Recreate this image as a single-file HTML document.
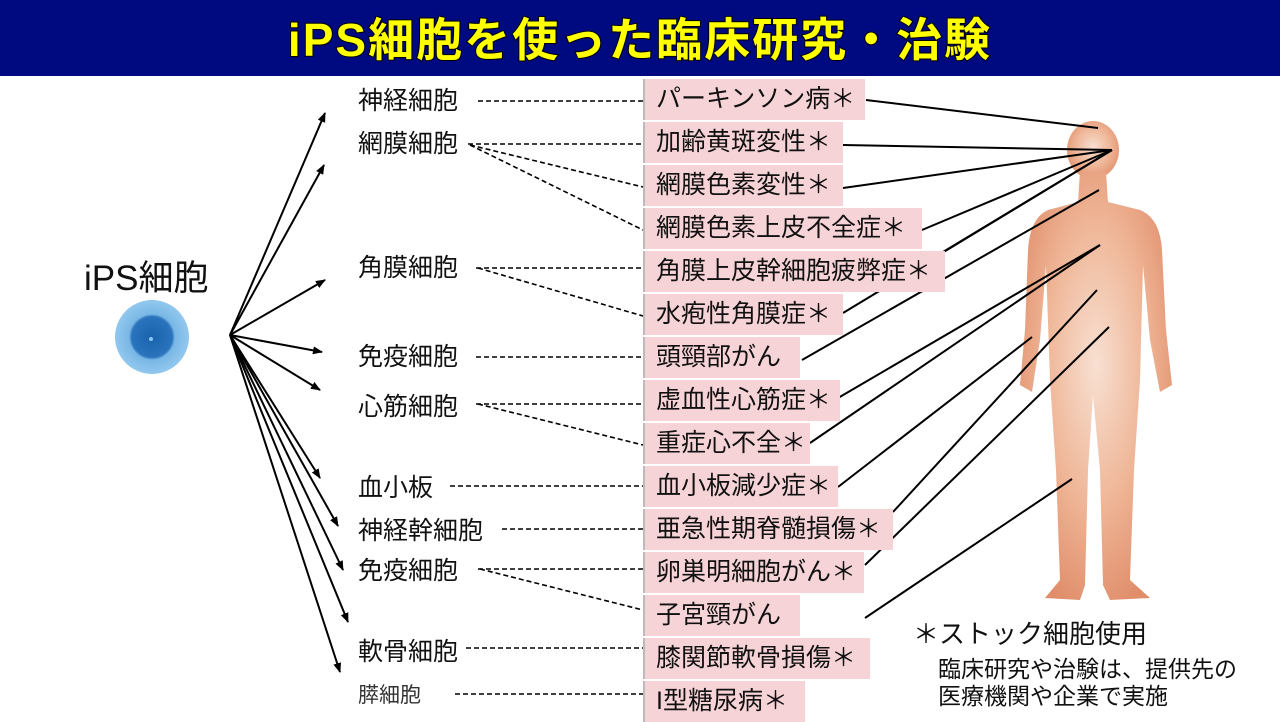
<!DOCTYPE html>
<html><head><meta charset="utf-8"><style>
body{margin:0;width:1280px;height:720px;overflow:hidden;background:#fff;font-family:"Liberation Sans","Noto Sans CJK JP",sans-serif;position:relative}
.bar{position:absolute;left:0;top:0;width:1280px;height:76px;background:#000a80}
.title{position:absolute;left:0;width:1280px;top:10px;text-align:center;font-size:46px;font-weight:bold;color:#ffff00;-webkit-text-stroke:2px #000;paint-order:stroke fill;letter-spacing:2px;line-height:60px}
.lab{position:absolute;left:358px;font-size:25px;color:#111;line-height:28px}
.box{position:absolute;left:643px;height:41px;background:#f6d3d7;font-size:25px;line-height:41px;padding-left:11px;color:#111;box-sizing:border-box;border-left:2px solid #bbb;white-space:nowrap}
.note{position:absolute;color:#111;white-space:nowrap}
</style></head><body>
<div class="bar"></div>
<div class="title">iPS細胞を使った臨床研究・治験</div>

<svg width="1280" height="720" style="position:absolute;left:0;top:0">
<defs>
<radialGradient id="g" cx="50%" cy="45%" r="60%">
<stop offset="0" stop-color="#f8e0d2"/><stop offset="0.55" stop-color="#efb697"/><stop offset="1" stop-color="#e08d6a"/></radialGradient>
<radialGradient id="c" cx="50%" cy="50%" r="50%">
<stop offset="0" stop-color="#1863ac"/><stop offset="0.55" stop-color="#2b74bd"/><stop offset="0.62" stop-color="#79b7e6"/><stop offset="1" stop-color="#92c8ee"/></radialGradient>
<marker id="a" markerWidth="10" markerHeight="8" refX="9" refY="4" orient="auto" markerUnits="userSpaceOnUse"><path d="M0,0 L10,4 L0,8 z" fill="#000"/></marker>
</defs>
<g fill="url(#g)">
<ellipse cx="1093" cy="150" rx="26" ry="29"/>
<path d="M1080,172 L1106,172 L1108,202 L1140,210 Q1160,218 1162,250 L1166,330 L1172,385 L1160,392 L1150,340 L1143,265 L1140,380 L1134,470 L1130,580 L1150,598 L1110,600 L1103,585 L1100,470 L1093,395 L1088,470 L1085,585 L1080,600 L1045,598 L1060,580 L1056,470 L1050,380 L1046,265 L1040,340 L1032,392 L1020,385 L1025,330 L1028,250 Q1030,218 1048,210 L1078,202 Z"/>
</g>
<circle cx="152" cy="337" r="37" fill="url(#c)"/>
<circle cx="151" cy="339" r="2" fill="#8fc6ee"/>
<g stroke="#000" stroke-width="2" fill="none" marker-end="url(#a)">
<line x1="230" y1="335" x2="325" y2="113"/>
<line x1="230" y1="335" x2="324" y2="165"/>
<line x1="230" y1="335" x2="325" y2="280"/>
<line x1="230" y1="335" x2="322" y2="352"/>
<line x1="230" y1="335" x2="320" y2="390"/>
<line x1="230" y1="335" x2="320" y2="478"/>
<line x1="230" y1="335" x2="338" y2="526"/>
<line x1="230" y1="335" x2="343" y2="570"/>
<line x1="230" y1="335" x2="348" y2="622"/>
<line x1="230" y1="335" x2="340" y2="672"/>
</g>
<g stroke="#000" stroke-width="1.6" stroke-dasharray="5,3" fill="none">
<line x1="478" y1="101" x2="643" y2="101"/>
<line x1="468" y1="144" x2="643" y2="144"/>
<line x1="470" y1="145" x2="643" y2="187"/>
<line x1="470" y1="145" x2="643" y2="230"/>
<line x1="476" y1="268" x2="643" y2="268"/>
<line x1="478" y1="268" x2="643" y2="316"/>
<line x1="476" y1="357" x2="643" y2="357"/>
<line x1="476" y1="404" x2="643" y2="404"/>
<line x1="478" y1="404" x2="643" y2="445"/>
<line x1="450" y1="486" x2="643" y2="486"/>
<line x1="502" y1="529" x2="643" y2="529"/>
<line x1="478" y1="569" x2="643" y2="569"/>
<line x1="480" y1="569" x2="643" y2="610"/>
<line x1="466" y1="648" x2="643" y2="648"/>
<line x1="455" y1="694" x2="643" y2="694"/>
</g>
<g stroke="#000" stroke-width="2" fill="none">
<line x1="866" y1="100" x2="1098" y2="128"/>
<line x1="843" y1="145" x2="1112" y2="150"/>
<line x1="843" y1="188" x2="1112" y2="150"/>
<line x1="922" y1="230" x2="1112" y2="150"/>
<line x1="943" y1="252" x2="1112" y2="150"/>
<line x1="843" y1="313" x2="1112" y2="150"/>
<line x1="802" y1="360" x2="1099" y2="190"/>
<line x1="838" y1="398" x2="1100" y2="245"/>
<line x1="810" y1="443" x2="1100" y2="245"/>
<line x1="838" y1="487" x2="1032" y2="337"/>
<line x1="893" y1="512" x2="1097" y2="290"/>
<line x1="865" y1="565" x2="1109" y2="327"/>
<line x1="865" y1="618" x2="1072" y2="479"/>
</g>
</svg>

<div class="note" style="left:84px;top:250px;font-size:35px">iPS細胞</div>

<div class="lab" style="top:87px">神経細胞</div>
<div class="lab" style="top:130px">網膜細胞</div>
<div class="lab" style="top:254px">角膜細胞</div>
<div class="lab" style="top:343px">免疫細胞</div>
<div class="lab" style="top:393px">心筋細胞</div>
<div class="lab" style="top:474px">血小板</div>
<div class="lab" style="top:517px">神経幹細胞</div>
<div class="lab" style="top:557px">免疫細胞</div>
<div class="lab" style="top:638px">軟骨細胞</div>
<div class="lab" style="top:682px;font-size:21px;color:#333">膵細胞</div>

<div class="box" style="top:79px;width:222px">パーキンソン病＊</div>
<div class="box" style="top:122px;width:200px">加齢黄斑変性＊</div>
<div class="box" style="top:165px;width:200px">網膜色素変性＊</div>
<div class="box" style="top:208px;width:279px">網膜色素上皮不全症＊</div>
<div class="box" style="top:251px;width:302px">角膜上皮幹細胞疲弊症＊</div>
<div class="box" style="top:294px;width:200px">水疱性角膜症＊</div>
<div class="box" style="top:337px;width:157px">頭頸部がん</div>
<div class="box" style="top:380px;width:197px">虚血性心筋症＊</div>
<div class="box" style="top:423px;width:167px">重症心不全＊</div>
<div class="box" style="top:466px;width:195px">血小板減少症＊</div>
<div class="box" style="top:509px;width:250px">亜急性期脊髄損傷＊</div>
<div class="box" style="top:552px;width:221px">卵巣明細胞がん＊</div>
<div class="box" style="top:595px;width:157px">子宮頸がん</div>
<div class="box" style="top:638px;width:227px">膝関節軟骨損傷＊</div>
<div class="box" style="top:681px;width:162px">I型糖尿病＊</div>

<div class="note" style="left:913px;top:614px;font-size:26px">＊ストック細胞使用</div>
<div class="note" style="left:938px;top:650px;font-size:23px">臨床研究や治験は、提供先の</div>
<div class="note" style="left:938px;top:677px;font-size:23px">医療機関や企業で実施</div>
</body></html>
